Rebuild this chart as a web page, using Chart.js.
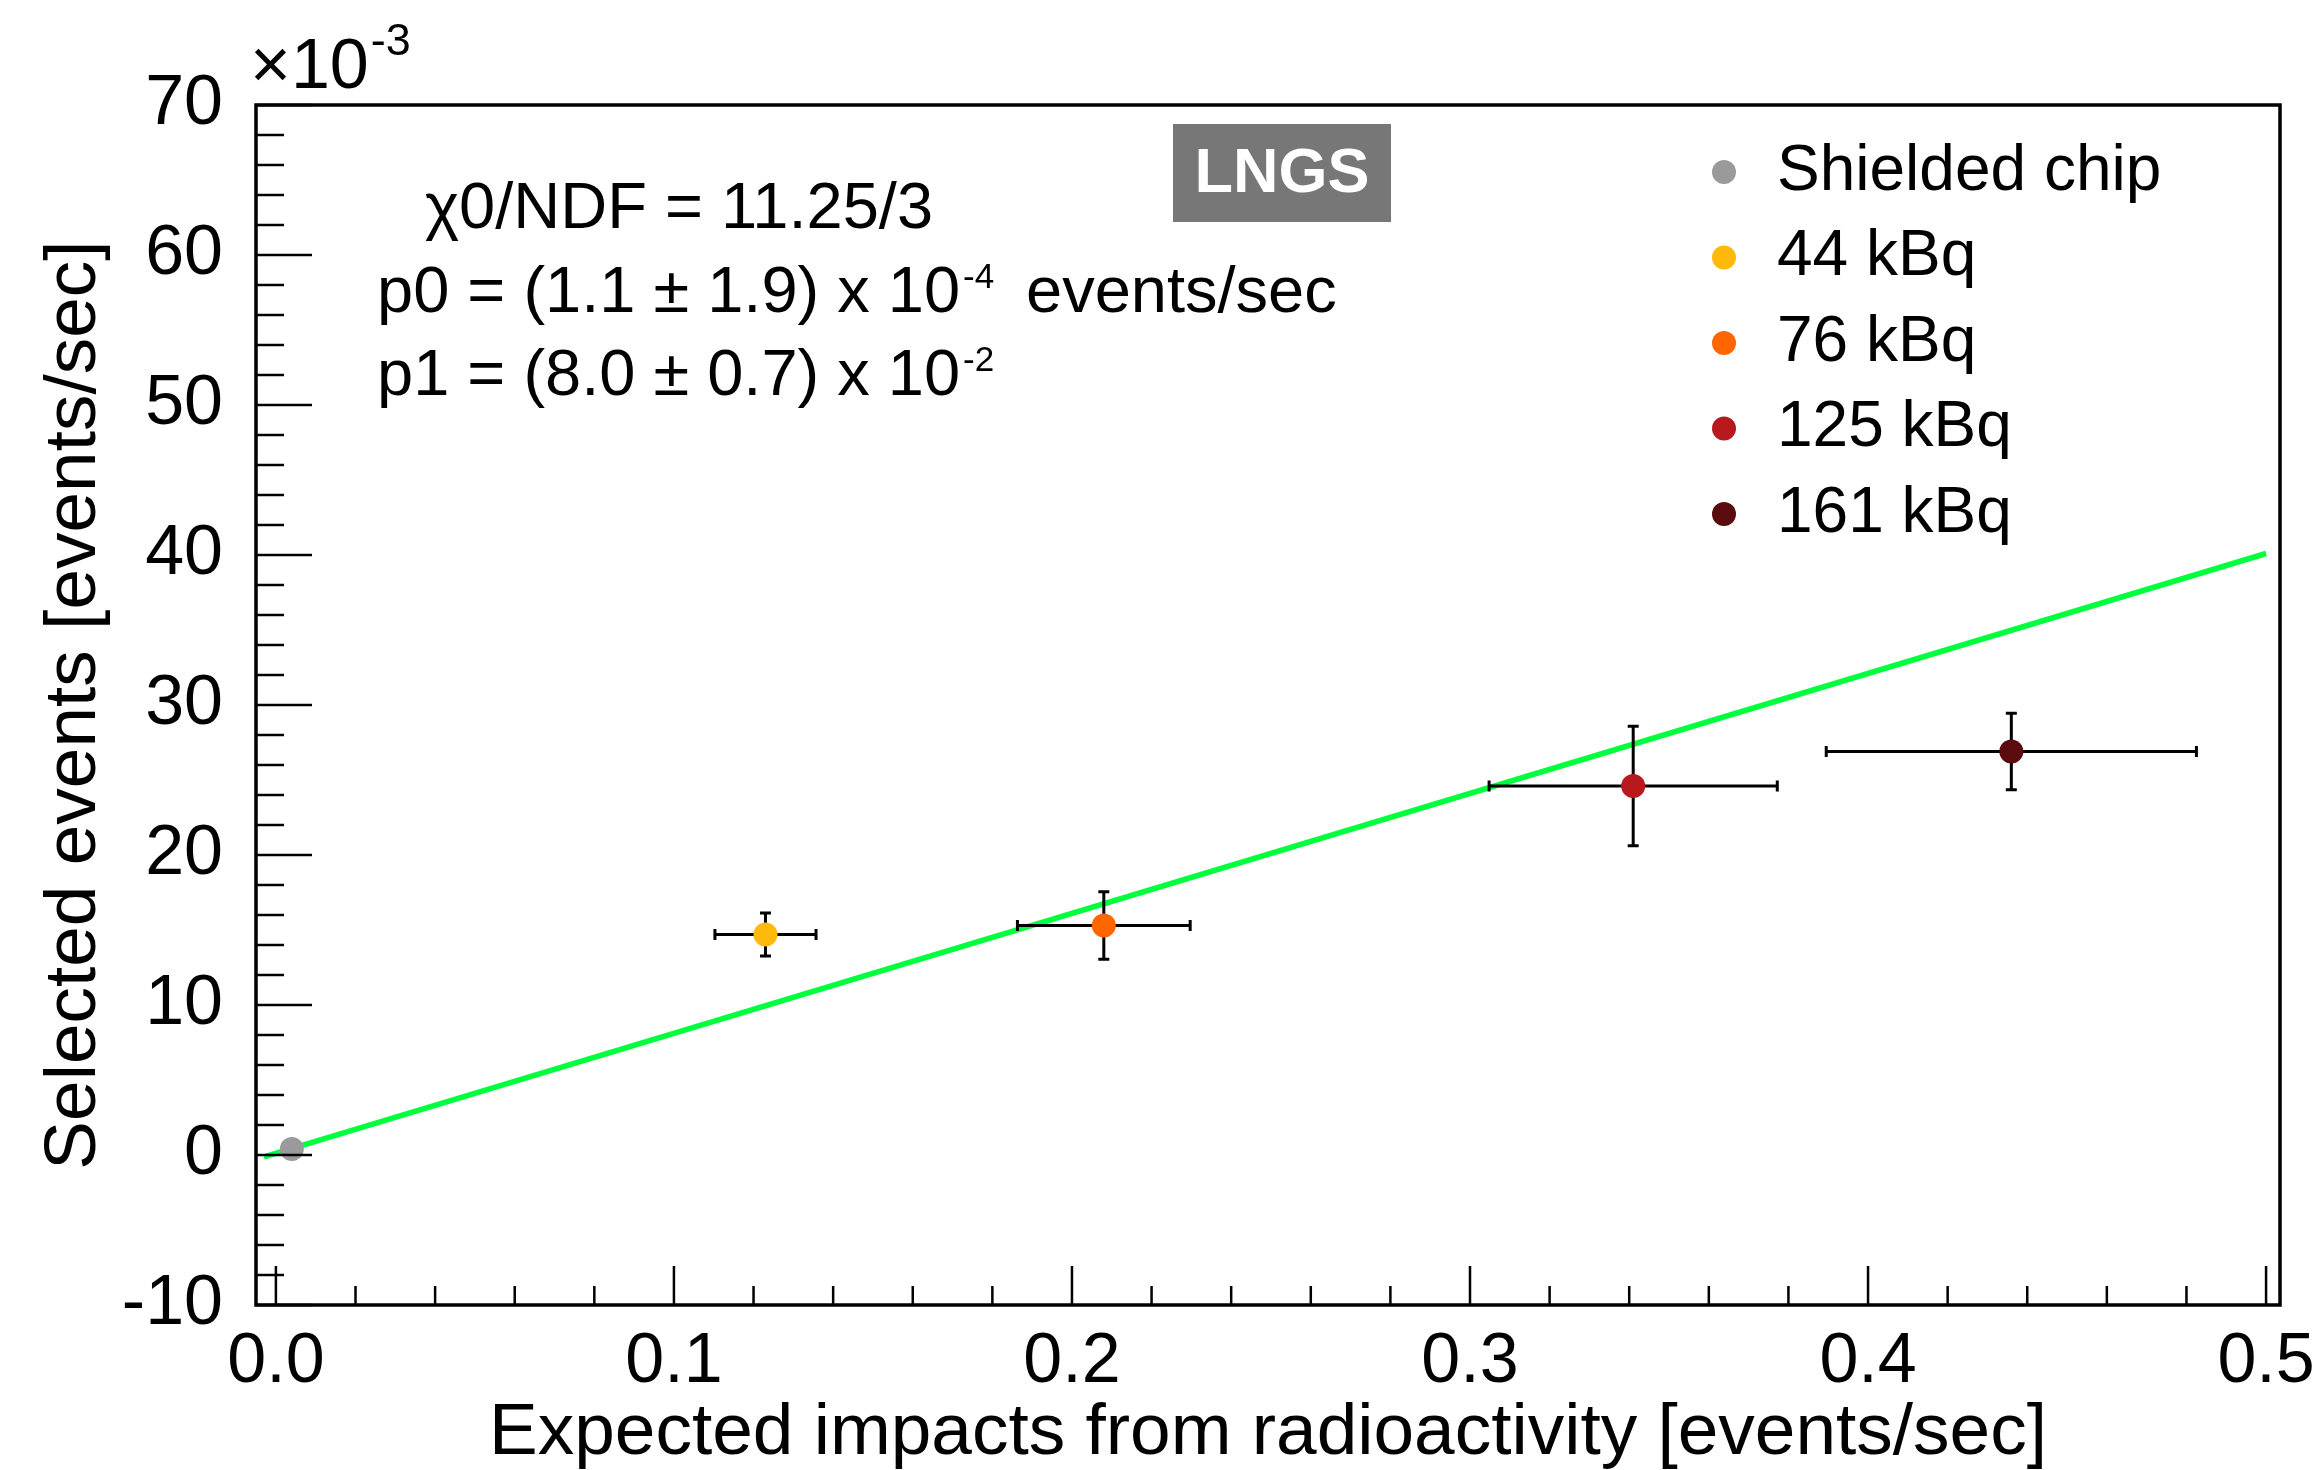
<!DOCTYPE html>
<html lang="en">
<head>
    <meta charset="UTF-8">
    <title>Selected events vs expected impacts</title>
    <script src="https://cdn.jsdelivr.net/npm/chart.js"></script>
    <style>
        body { margin: 0; background: #fff; }
        #chart { display: block; }
    </style>
</head>
<body>
    <canvas id="chart" width="2320" height="1470"></canvas>
    <script>
        // valores (y em unidades de 1e-3)
        const seriesNames = ['Shielded chip', '44 kBq', '76 kBq', '125 kBq', '161 kBq'];
        const seriesColors = ['#9a9a9a', '#ffb90a', '#ff6600', '#b8191d', '#5a0b0e'];
        const xValues = [0.004, 0.123, 0.208, 0.341, 0.436];
        const xErrors = [0.002, 0.0127, 0.0217, 0.0362, 0.0465];
        const yValues = [0.4, 14.7, 15.3, 24.6, 26.9];
        const yErrors = [0.3, 1.43, 2.25, 3.98, 2.55];

        // reta do ajuste, pontas
        const fitX = [-0.003, 0.5];
        const fitY = [-0.13, 40.1];

        const xTicks = [0.0, 0.1, 0.2, 0.3, 0.4, 0.5];
        const yTicks = [-10, 0, 10, 20, 30, 40, 50, 60, 70];

        const fitLines = [
            { text: 'χ0/NDF = 11.25/3' },
            { text: 'p0 = (1.1 ± 1.9) x 10', sup: '-4', tail: 'events/sec' },
            { text: 'p1 = (8.0 ± 0.7) x 10', sup: '-2' }
        ];

        const FONT = '"Liberation Sans", Arial, Helvetica, sans-serif';
        Chart.defaults.font.family = FONT;
        Chart.defaults.color = '#000';

        const datasets = [{
            type: 'line',
            label: 'fit',
            data: fitX.map((x, i) => ({ x: x, y: fitY[i] })),
            borderColor: '#00ff3c',
            borderWidth: 5.5,
            pointRadius: 0,
            order: 10
        }];
        seriesNames.forEach((name, i) => {
            datasets.push({
                label: name,
                data: [{ x: xValues[i], y: yValues[i] }],
                backgroundColor: seriesColors[i],
                borderWidth: 0,
                pointRadius: 12,
                pointHoverRadius: 12,
                order: 1
            });
        });

        // barras de erro, desenhadas antes de cada marcador
        const errorBars = {
            id: 'errorBars',
            beforeDatasetDraw(chart, args) {
                const i = args.index - 1;
                if (i < 0) return;
                const xs = chart.scales.x, ys = chart.scales.y, c = chart.ctx;
                const px = xs.getPixelForValue(xValues[i]);
                const py = ys.getPixelForValue(yValues[i]);
                const x1 = xs.getPixelForValue(xValues[i] - xErrors[i]);
                const x2 = xs.getPixelForValue(xValues[i] + xErrors[i]);
                const y1 = ys.getPixelForValue(yValues[i] - yErrors[i]);
                const y2 = ys.getPixelForValue(yValues[i] + yErrors[i]);
                const cap = 5.5;
                c.save();
                c.strokeStyle = '#000';
                c.lineWidth = 3;
                c.beginPath();
                c.moveTo(x1, py); c.lineTo(x2, py);
                c.moveTo(px, y1); c.lineTo(px, y2);
                c.moveTo(x1, py - cap); c.lineTo(x1, py + cap);
                c.moveTo(x2, py - cap); c.lineTo(x2, py + cap);
                c.moveTo(px - cap, y1); c.lineTo(px + cap, y1);
                c.moveTo(px - cap, y2); c.lineTo(px + cap, y2);
                c.stroke();
                c.restore();
            }
        };

        // moldura estilo ROOT com ticks para dentro
        const frame = {
            id: 'frame',
            afterDatasetsDraw(chart) {
                const { ctx: c, chartArea: a } = chart;
                const xs = chart.scales.x, ys = chart.scales.y;
                c.save();
                c.strokeStyle = '#000';
                c.lineWidth = 2.5;
                c.beginPath();
                for (let k = 0; k <= 25; k++) {
                    const px = xs.getPixelForValue(k * 0.02);
                    const len = k % 5 === 0 ? 39 : 19;
                    c.moveTo(px, a.bottom); c.lineTo(px, a.bottom - len);
                }
                for (let k = -5; k <= 35; k++) {
                    const py = ys.getPixelForValue(k * 2);
                    const len = k % 5 === 0 ? 56 : 28;
                    c.moveTo(a.left, py); c.lineTo(a.left + len, py);
                }
                c.stroke();
                c.lineWidth = 3.5;
                c.strokeRect(a.left, a.top, a.right - a.left, a.bottom - a.top);

                // x10^-3 do eixo y
                c.fillStyle = '#000';
                c.textBaseline = 'alphabetic';
                c.font = '70px ' + FONT;
                c.fillText('×10', 250, 88);
                const w = c.measureText('×10').width;
                c.font = '45px ' + FONT;
                c.fillText('-3', 250 + w + 2, 55);

                // caixa LNGS
                c.fillStyle = '#777777';
                c.fillRect(1173, 124, 218, 98);
                c.fillStyle = '#fff';
                c.font = 'bold 63px ' + FONT;
                c.textAlign = 'center';
                c.fillText('LNGS', 1282, 192);

                // texto do ajuste
                c.textAlign = 'left';
                c.fillStyle = '#000';
                const lx = [425, 377, 377];
                const ly = [228, 312, 395];
                fitLines.forEach((l, i) => {
                    c.font = '65px ' + FONT;
                    c.fillText(l.text, lx[i], ly[i]);
                    const tw = c.measureText(l.text).width;
                    if (l.tail) c.fillText(l.tail, 1026, ly[i]);
                    if (l.sup) {
                        c.font = '35px ' + FONT;
                        c.fillText(l.sup, lx[i] + tw + 3, ly[i] - 24);
                    }
                });

                // legenda
                c.font = '64px ' + FONT;
                c.textBaseline = 'middle';
                seriesNames.forEach((name, i) => {
                    const y = 172 + i * 85.5;
                    c.fillStyle = seriesColors[i];
                    c.beginPath();
                    c.arc(1724, y, 12, 0, Math.PI * 2);
                    c.fill();
                    c.fillStyle = '#000';
                    c.fillText(name, 1777, y);
                });
                c.restore();
            }
        };

        new Chart(document.getElementById('chart'), {
            type: 'scatter',
            data: { datasets: datasets },
            options: {
                responsive: false,
                animation: false,
                layout: { padding: { top: 105, right: 40, left: 0, bottom: 0 } },
                plugins: { legend: { display: false }, tooltip: { enabled: false } },
                scales: {
                    x: {
                        type: 'linear',
                        min: -0.005,
                        max: 0.5035,
                        grid: { display: false, drawTicks: false },
                        border: { display: false },
                        afterFit: s => { s.height = 165; s.paddingLeft = 0; s.paddingRight = 0; },
                        afterBuildTicks: s => { s.ticks = xTicks.map(v => ({ value: v })); },
                        ticks: {
                            autoSkip: false,
                            maxRotation: 0,
                            padding: 16,
                            font: { size: 70 },
                            callback: v => v.toFixed(1)
                        },
                        title: {
                            display: true,
                            text: 'Expected impacts from radioactivity [events/sec]',
                            font: { size: 73, lineHeight: 1 },
                            padding: { top: 0, bottom: 0 }
                        }
                    },
                    y: {
                        min: -10,
                        max: 70,
                        grid: { display: false, drawTicks: false },
                        border: { display: false },
                        afterFit: s => { s.width = 256; s.paddingTop = 0; s.paddingBottom = 0; },
                        afterBuildTicks: s => { s.ticks = yTicks.map(v => ({ value: v })); },
                        ticks: {
                            padding: 33,
                            font: { size: 70 },
                            callback: v => String(v)
                        },
                        title: {
                            display: true,
                            text: 'Selected events [events/sec]',
                            font: { size: 73, lineHeight: 1 },
                            padding: { top: 38, bottom: 0 }
                        }
                    }
                }
            },
            plugins: [errorBars, frame]
        });
    </script>
</body>
</html>
